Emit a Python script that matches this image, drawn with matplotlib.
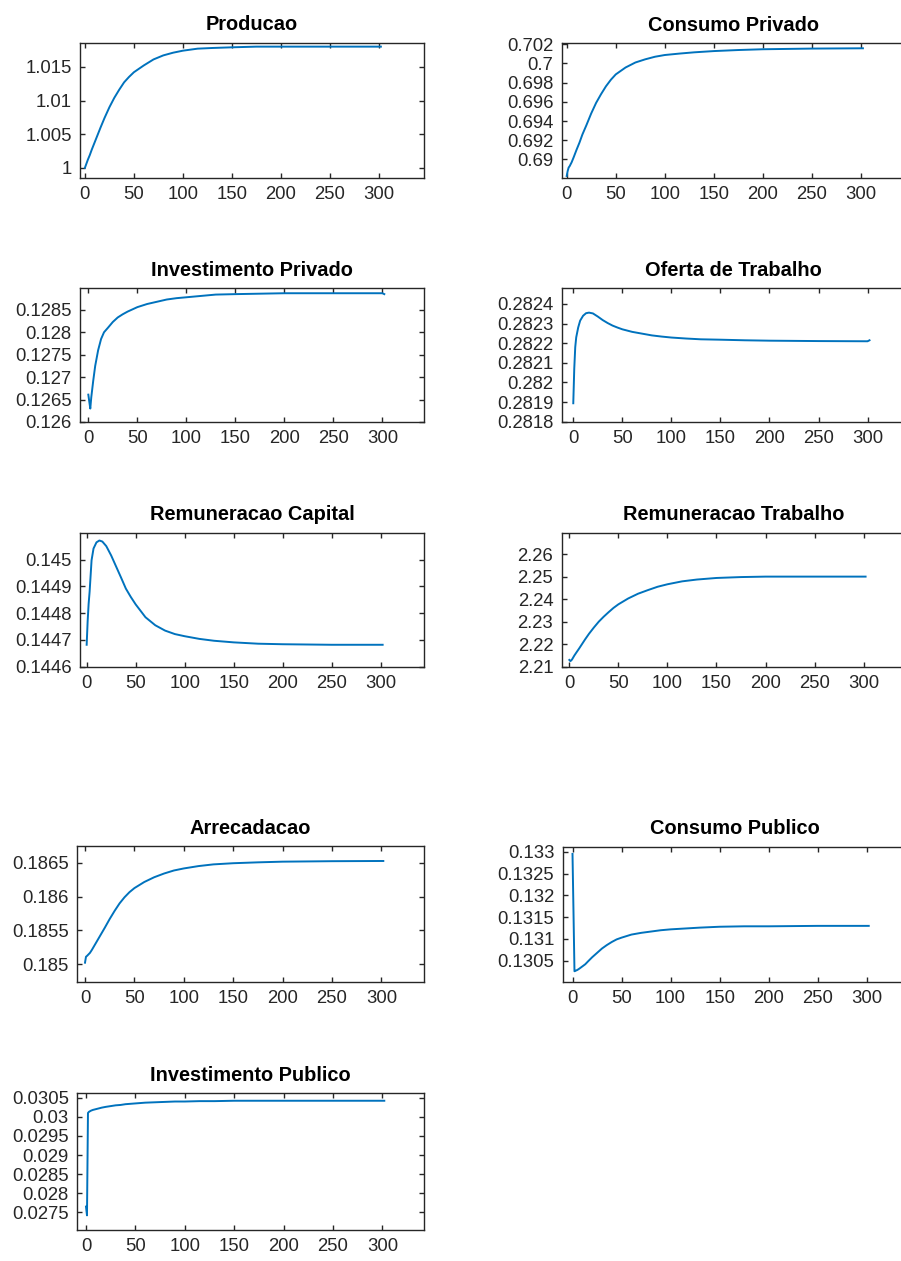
import numpy as np
import matplotlib
matplotlib.use("Agg")
import matplotlib.pyplot as plt
from matplotlib.ticker import FuncFormatter


##############################################################################################################
# Trajectories, common time grid
##############################################################################################################
periodos = [0, 1, 2, 3, 5, 7, 10, 13, 16, 20, 25, 30, 35, 40, 45, 50, 60, 70, 80, 90, 100,
            115, 130, 150, 175, 200, 250, 300, 302]

producao = [1.0000, 1.0004, 1.0008, 1.0012, 1.0019, 1.0027, 1.0038, 1.0049, 1.0060, 1.0074,
            1.0090, 1.0104, 1.0116, 1.0127, 1.0135, 1.0142, 1.0152, 1.0161, 1.0167, 1.0171,
            1.0174, 1.0177, 1.0178, 1.0179, 1.0180, 1.0180, 1.0180, 1.0180, 1.0180]

consumo_privado = [0.68828, 0.68880, 0.68916, 0.68930, 0.68970, 0.69020, 0.69100, 0.69175, 0.69260,
                   0.69355, 0.69480, 0.69590, 0.69680, 0.69762, 0.69830, 0.69886, 0.69958, 0.70010,
                   0.70043, 0.70070, 0.70088, 0.70103, 0.70116, 0.70129, 0.70140, 0.70148, 0.70155,
                   0.70158, 0.70158]

investimento_privado = [0.12661, 0.12645, 0.12630, 0.12655, 0.12692, 0.12725, 0.12760, 0.12785, 0.12800,
                        0.12810, 0.12823, 0.12833, 0.12840, 0.12846, 0.12851, 0.12856, 0.12863, 0.12868,
                        0.12873, 0.12876, 0.12878, 0.12881, 0.12884, 0.12885, 0.12886, 0.12887, 0.12887,
                        0.12887, 0.12885]

oferta_trabalho = [0.281894, 0.282070, 0.282180, 0.282230, 0.282280, 0.282315, 0.282340, 0.282353,
                   0.282356, 0.282352, 0.282336, 0.282318, 0.282303, 0.282290, 0.282280, 0.282271,
                   0.282258, 0.282249, 0.282240, 0.282234, 0.282229, 0.282224, 0.282220, 0.282218,
                   0.282215, 0.282213, 0.282211, 0.282210, 0.282215]

remuneracao_capital = [0.144682, 0.144770, 0.144835, 0.144880, 0.144998, 0.145042, 0.145065, 0.145072,
                       0.145068, 0.145051, 0.145016, 0.144975, 0.144934, 0.144892, 0.144861, 0.144833,
                       0.144785, 0.144755, 0.144735, 0.144722, 0.144714, 0.144704, 0.144697, 0.144691,
                       0.144686, 0.144684, 0.144682, 0.144682, 0.144682]

remuneracao_trabalho = [2.2130, 2.2125, 2.2128, 2.2134, 2.2149, 2.2162, 2.2181, 2.2201, 2.2221, 2.2246,
                        2.2274, 2.2300, 2.2322, 2.2342, 2.2361, 2.2377, 2.2403, 2.2424, 2.2440, 2.2455,
                        2.2466, 2.2479, 2.2487, 2.2494, 2.2498, 2.2500, 2.2500, 2.2500, 2.2500]

arrecadacao = [0.185025, 0.185113, 0.185125, 0.185140, 0.185170, 0.185215, 0.185290, 0.185365, 0.185440,
               0.185540, 0.185670, 0.185790, 0.185900, 0.185990, 0.186065, 0.186125, 0.186215, 0.186285,
               0.186340, 0.186385, 0.186415, 0.186450, 0.186475, 0.186492, 0.186505, 0.186515, 0.186522,
               0.186525, 0.186525]

consumo_publico = [0.13295, 0.13162, 0.13026, 0.13027, 0.13029, 0.13032, 0.13037, 0.13042, 0.13049,
                   0.13058, 0.13068, 0.13078, 0.13086, 0.13093, 0.13099, 0.13103, 0.13110, 0.13114,
                   0.13117, 0.13120, 0.13122, 0.13124, 0.13126, 0.13128, 0.13129, 0.13129, 0.13130,
                   0.13130, 0.13130]

investimento_publico = [0.02765, 0.02742, 0.03010, 0.03013, 0.03016, 0.03018, 0.03020, 0.03022, 0.03024,
                        0.03026, 0.03028, 0.03030, 0.03031, 0.03033, 0.03034, 0.03035, 0.03037, 0.03038,
                        0.03039, 0.03040, 0.03040, 0.03041, 0.03041, 0.03042, 0.03042, 0.03042, 0.03042,
                        0.03042, 0.03042]

titulos = ["Producao", "Consumo Privado", "Investimento Privado", "Oferta de Trabalho",
           "Remuneracao Capital", "Remuneracao Trabalho", "Arrecadacao", "Consumo Publico",
           "Investimento Publico"]
series = [producao, consumo_privado, investimento_privado, oferta_trabalho, remuneracao_capital,
          remuneracao_trabalho, arrecadacao, consumo_publico, investimento_publico]

x_ticks = [0, 50, 100, 150, 200, 250, 300]
y_ticks = [
    [1, 1.005, 1.01, 1.015],
    [0.69, 0.692, 0.694, 0.696, 0.698, 0.7, 0.702],
    [0.126, 0.1265, 0.127, 0.1275, 0.128, 0.1285],
    [0.2818, 0.2819, 0.282, 0.2821, 0.2822, 0.2823, 0.2824],
    [0.1446, 0.1447, 0.1448, 0.1449, 0.145],
    [2.21, 2.22, 2.23, 2.24, 2.25, 2.26],
    [0.185, 0.1855, 0.186, 0.1865],
    [0.1305, 0.131, 0.1315, 0.132, 0.1325, 0.133],
    [0.0275, 0.028, 0.0285, 0.029, 0.0295, 0.03, 0.0305],
]
y_limites = [(0.99849, 1.01854), (0.6881, 0.7021), (0.126, 0.12898), (0.2818, 0.28248),
             (0.1446, 0.1451), (2.21, 2.2695), (0.184745, 0.186746), (0.13002, 0.133115),
             (0.027037, 0.030615)]


##############################################################################################################
# Layout: axes boxes in pixels (left, top, right, bottom) and x-limit start
##############################################################################################################
W, H = 901, 1261
caixas = [(80, 43, 424, 178), (561.7, 43.3, 906, 177.7),
          (80, 288.3, 424, 422), (561.7, 288.3, 906, 421.7),
          (80, 533, 424, 666.7), (561.7, 532.7, 906, 666.7),
          (77.3, 846, 424, 981.7), (562.7, 846.7, 907, 981.7),
          (77.3, 1093.3, 424, 1230)]
x_inicio = [-5, -5.1, -8.5, -11.8, -6.8, -7.8, -7.8, -10, -8.8]

cinza = "#262626"
azul = "#0072BD"

fig = plt.figure(figsize=(W / 100, H / 100), dpi=100)
plt.rcParams['font.family'] = ['Liberation Sans', 'DejaVu Sans']

for i in range(9):
    l, t, r, b = caixas[i]
    ax = fig.add_axes([l / W, 1 - b / H, (r - l) / W, (b - t) / H])
    ax.plot(periodos, series[i], color=azul, lw=1.4)
    ax.set_xlim(x_inicio[i], x_inicio[i] + 351)
    ax.set_ylim(*y_limites[i])
    ax.set_xticks(x_ticks)
    ax.set_yticks(y_ticks[i])
    ax.yaxis.set_major_formatter(FuncFormatter(lambda v, p: f"{v:g}"))
    ax.tick_params(direction='in', length=3.5, width=1.0, color=cinza, labelcolor=cinza,
                   labelsize=13.3, pad=6, top=True, right=True)
    for s in ax.spines.values():
        s.set_color(cinza)
        s.set_linewidth(1.0)
    ax.set_title(titulos[i], fontsize=14.4, fontweight='bold', pad=9)

fig.savefig("out.png", dpi=100)
